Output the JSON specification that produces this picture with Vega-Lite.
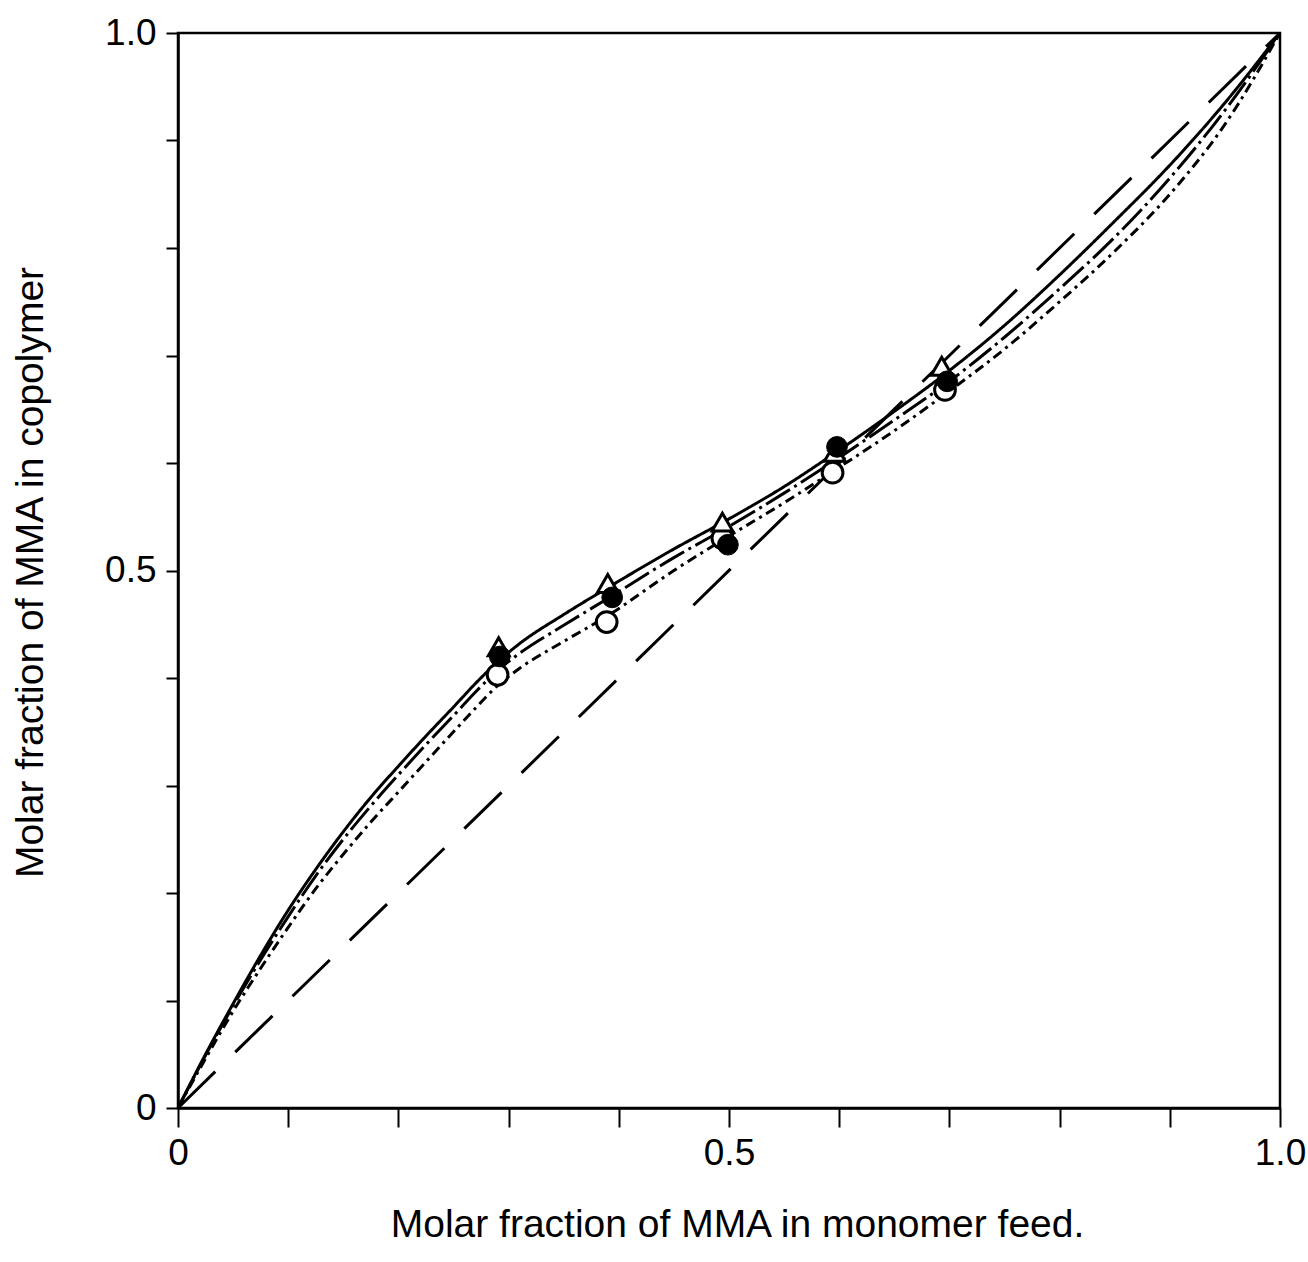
{
  "$schema": "https://vega.github.io/schema/vega-lite/v6.json",
  "width": 1102,
  "height": 1075,
  "autosize": "none",
  "padding": {"left": 178, "top": 33, "right": 28, "bottom": 154},
  "background": "white",
  "config": {
    "view": {"stroke": "black", "strokeWidth": 2.5},
    "font": "Liberation Sans",
    "axis": {
      "grid": false,
      "domainColor": "black",
      "domainWidth": 2.5,
      "tickColor": "black",
      "tickWidth": 2,
      "labelColor": "black",
      "titleColor": "black",
      "labelFont": "Liberation Sans",
      "titleFont": "Liberation Sans",
      "titleFontWeight": "normal",
      "labelFontSize": 37,
      "titleFontSize": 39
    }
  },
  "datasets": {
    "diag": [{"x": 0, "y": 0}, {"x": 1, "y": 1}],
    "curves": [
      {"series": "A", "x": 0, "y": 0},
      {"series": "A", "x": 0.025, "y": 0.05},
      {"series": "A", "x": 0.05, "y": 0.097},
      {"series": "A", "x": 0.075, "y": 0.142},
      {"series": "A", "x": 0.1, "y": 0.184},
      {"series": "A", "x": 0.125, "y": 0.222},
      {"series": "A", "x": 0.15, "y": 0.257},
      {"series": "A", "x": 0.175, "y": 0.289},
      {"series": "A", "x": 0.2, "y": 0.318},
      {"series": "A", "x": 0.225, "y": 0.346},
      {"series": "A", "x": 0.25, "y": 0.373},
      {"series": "A", "x": 0.27, "y": 0.395},
      {"series": "A", "x": 0.29, "y": 0.415},
      {"series": "A", "x": 0.31, "y": 0.432},
      {"series": "A", "x": 0.35, "y": 0.459},
      {"series": "A", "x": 0.39, "y": 0.484},
      {"series": "A", "x": 0.45, "y": 0.52},
      {"series": "A", "x": 0.5, "y": 0.548},
      {"series": "A", "x": 0.55, "y": 0.578},
      {"series": "A", "x": 0.6, "y": 0.612},
      {"series": "A", "x": 0.65, "y": 0.648},
      {"series": "A", "x": 0.7, "y": 0.686},
      {"series": "A", "x": 0.75, "y": 0.728},
      {"series": "A", "x": 0.8, "y": 0.775},
      {"series": "A", "x": 0.85, "y": 0.825},
      {"series": "A", "x": 0.9, "y": 0.877},
      {"series": "A", "x": 0.95, "y": 0.935},
      {"series": "A", "x": 1, "y": 1},
      {"series": "B", "x": 0, "y": 0},
      {"series": "B", "x": 0.025, "y": 0.049},
      {"series": "B", "x": 0.05, "y": 0.095},
      {"series": "B", "x": 0.075, "y": 0.138},
      {"series": "B", "x": 0.1, "y": 0.178},
      {"series": "B", "x": 0.125, "y": 0.216},
      {"series": "B", "x": 0.15, "y": 0.25},
      {"series": "B", "x": 0.175, "y": 0.281},
      {"series": "B", "x": 0.2, "y": 0.31},
      {"series": "B", "x": 0.225, "y": 0.338},
      {"series": "B", "x": 0.25, "y": 0.365},
      {"series": "B", "x": 0.27, "y": 0.387},
      {"series": "B", "x": 0.29, "y": 0.407},
      {"series": "B", "x": 0.31, "y": 0.423},
      {"series": "B", "x": 0.35, "y": 0.449},
      {"series": "B", "x": 0.39, "y": 0.474},
      {"series": "B", "x": 0.45, "y": 0.512},
      {"series": "B", "x": 0.5, "y": 0.541},
      {"series": "B", "x": 0.55, "y": 0.572},
      {"series": "B", "x": 0.6, "y": 0.605},
      {"series": "B", "x": 0.65, "y": 0.64},
      {"series": "B", "x": 0.7, "y": 0.676},
      {"series": "B", "x": 0.75, "y": 0.717},
      {"series": "B", "x": 0.8, "y": 0.762},
      {"series": "B", "x": 0.85, "y": 0.81},
      {"series": "B", "x": 0.9, "y": 0.865},
      {"series": "B", "x": 0.95, "y": 0.928},
      {"series": "B", "x": 1, "y": 1},
      {"series": "C", "x": 0, "y": 0},
      {"series": "C", "x": 0.025, "y": 0.046},
      {"series": "C", "x": 0.05, "y": 0.09},
      {"series": "C", "x": 0.075, "y": 0.13},
      {"series": "C", "x": 0.1, "y": 0.168},
      {"series": "C", "x": 0.125, "y": 0.204},
      {"series": "C", "x": 0.15, "y": 0.236},
      {"series": "C", "x": 0.175, "y": 0.266},
      {"series": "C", "x": 0.2, "y": 0.294},
      {"series": "C", "x": 0.225, "y": 0.322},
      {"series": "C", "x": 0.25, "y": 0.35},
      {"series": "C", "x": 0.27, "y": 0.372},
      {"series": "C", "x": 0.29, "y": 0.393},
      {"series": "C", "x": 0.31, "y": 0.409},
      {"series": "C", "x": 0.35, "y": 0.434},
      {"series": "C", "x": 0.39, "y": 0.458},
      {"series": "C", "x": 0.45, "y": 0.5},
      {"series": "C", "x": 0.5, "y": 0.532},
      {"series": "C", "x": 0.55, "y": 0.563},
      {"series": "C", "x": 0.6, "y": 0.596},
      {"series": "C", "x": 0.65, "y": 0.63},
      {"series": "C", "x": 0.7, "y": 0.667},
      {"series": "C", "x": 0.75, "y": 0.706},
      {"series": "C", "x": 0.8, "y": 0.75},
      {"series": "C", "x": 0.85, "y": 0.797},
      {"series": "C", "x": 0.9, "y": 0.85},
      {"series": "C", "x": 0.95, "y": 0.915},
      {"series": "C", "x": 1, "y": 1}
    ],
    "points": [
      {"kind": "open circle", "x": 0.29, "y": 0.403},
      {"kind": "open circle", "x": 0.389, "y": 0.452},
      {"kind": "open circle", "x": 0.494, "y": 0.53},
      {"kind": "open circle", "x": 0.594, "y": 0.591},
      {"kind": "open circle", "x": 0.696, "y": 0.668},
      {"kind": "triangle", "x": 0.291, "y": 0.429},
      {"kind": "triangle", "x": 0.39, "y": 0.488},
      {"kind": "triangle", "x": 0.494, "y": 0.545},
      {"kind": "triangle", "x": 0.596, "y": 0.61},
      {"kind": "triangle", "x": 0.693, "y": 0.69},
      {"kind": "filled circle", "x": 0.292, "y": 0.42},
      {"kind": "filled circle", "x": 0.394, "y": 0.475},
      {"kind": "filled circle", "x": 0.499, "y": 0.524},
      {"kind": "filled circle", "x": 0.598, "y": 0.615},
      {"kind": "filled circle", "x": 0.698, "y": 0.676}
    ]
  },
  "encoding": {
    "x": {
      "field": "x",
      "type": "quantitative",
      "scale": {"domain": [0, 1], "nice": false, "zero": false},
      "axis": {
        "values": [0, 0.1, 0.2, 0.3, 0.4, 0.5, 0.6, 0.7, 0.8, 0.9, 1],
        "labelExpr": "datum.value == 0 ? '0' : datum.value == 0.5 ? '0.5' : datum.value == 1 ? '1.0' : ''",
        "tickSize": 19,
        "labelPadding": 8,
        "labelFlush": false,
        "labelOverlap": false,
        "title": "Molar fraction of MMA in monomer feed.",
        "titleX": 559,
        "titleY": 128,
        "titleAlign": "center",
        "titleBaseline": "alphabetic"
      }
    },
    "y": {
      "field": "y",
      "type": "quantitative",
      "scale": {"domain": [0, 1], "nice": false, "zero": false},
      "axis": {
        "values": [0, 0.1, 0.2, 0.3, 0.4, 0.5, 0.6, 0.7, 0.8, 0.9, 1],
        "labelExpr": "datum.value == 0 ? '0' : datum.value == 0.5 ? '0.5' : datum.value == 1 ? '1.0' : ''",
        "tickSize": 12,
        "labelPadding": 10,
        "labelFlush": false,
        "labelOverlap": false,
        "title": "Molar fraction of MMA in copolymer",
        "titleX": -136,
        "titleY": 539,
        "titleAngle": -90,
        "titleAlign": "center",
        "titleBaseline": "alphabetic"
      }
    }
  },
  "layer": [
    {
      "data": {"name": "diag"},
      "mark": {"type": "line", "color": "black", "strokeWidth": 3, "strokeDash": [52, 28]},
      "encoding": {}
    },
    {
      "data": {"name": "curves"},
      "mark": {"type": "line", "color": "black", "strokeWidth": 3, "interpolate": "monotone"},
      "encoding": {
        "detail": {"field": "series", "type": "nominal"},
        "strokeDash": {
          "field": "series",
          "type": "nominal",
          "scale": {"domain": ["A", "B", "C"], "range": [[1, 0], [28, 5, 3, 5], [10, 5, 3, 5]]},
          "legend": null
        }
      }
    },
    {
      "data": {"name": "points"},
      "transform": [{"filter": "datum.kind == 'open circle'"}],
      "mark": {"type": "point", "shape": "circle", "size": 430, "filled": true, "fill": "white", "stroke": "black", "strokeWidth": 3, "opacity": 1}
    },
    {
      "data": {"name": "points"},
      "transform": [{"filter": "datum.kind == 'triangle'"}],
      "mark": {"type": "point", "shape": "triangle-up", "size": 430, "filled": true, "fill": "white", "stroke": "black", "strokeWidth": 3, "opacity": 1}
    },
    {
      "data": {"name": "points"},
      "transform": [{"filter": "datum.kind == 'filled circle'"}],
      "mark": {"type": "point", "shape": "circle", "size": 430, "filled": true, "fill": "black", "stroke": "black", "strokeWidth": 1, "opacity": 1}
    }
  ]
}
